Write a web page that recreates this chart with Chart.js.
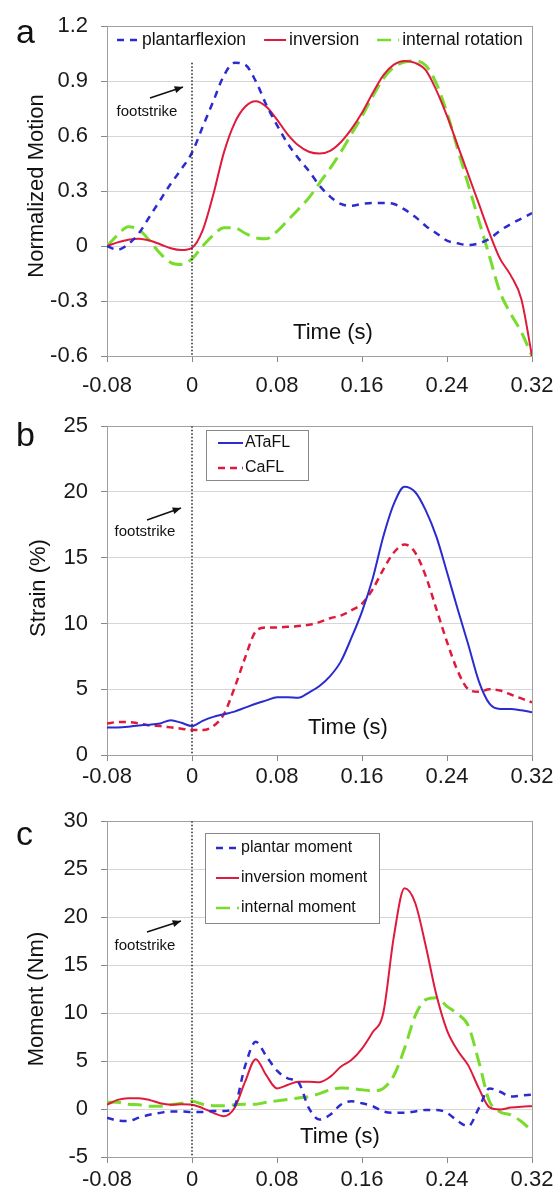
<!DOCTYPE html>
<html>
<head>
<meta charset="utf-8">
<script src="https://cdn.jsdelivr.net/npm/chart.js@4.4.0/dist/chart.umd.min.js"></script>
<style>
  html, body { margin: 0; padding: 0; background: #fff; }
  #wrap { position: relative; width: 560px; height: 1196px; }
  canvas { position: absolute; left: 0; }
</style>
</head>
<body>
<div id="wrap">
  <canvas id="chartA" width="560" height="400" style="top:0"></canvas>
  <canvas id="chartB" width="560" height="395" style="top:400px"></canvas>
  <canvas id="chartC" width="560" height="401" style="top:795px"></canvas>
</div>
<script>
/*************************************************
 * DATA
 *************************************************/
const time = [
  -0.08, -0.07, -0.06, -0.05, -0.04, -0.03, -0.02, -0.01,
  0, 0.01, 0.02, 0.03, 0.04, 0.05, 0.06, 0.07, 0.08, 0.09, 0.10,
  0.11, 0.12, 0.13, 0.14, 0.15, 0.16, 0.17, 0.18, 0.19, 0.20,
  0.21, 0.22, 0.23, 0.24, 0.25, 0.26, 0.27, 0.28, 0.29, 0.30,
  0.31, 0.32
];
const timeTicks = [-0.08, 0, 0.08, 0.16, 0.24, 0.32];
const footstrikeT = 0;

// a: normalized motion
const motionTicks = [-0.6, -0.3, 0, 0.3, 0.6, 0.9, 1.2];
const plantarflexion = [
  0.00, -0.02, 0.01, 0.07, 0.16, 0.25, 0.34, 0.42,
  0.51, 0.65, 0.79, 0.93, 1.00, 0.99, 0.90, 0.77, 0.66, 0.56, 0.48,
  0.41, 0.33, 0.27, 0.23, 0.22, 0.23, 0.235, 0.235, 0.23, 0.20,
  0.16, 0.11, 0.07, 0.03, 0.015, 0.005, 0.015, 0.04, 0.085, 0.12,
  0.15, 0.18
];
const inversion = [
  0.00, 0.02, 0.035, 0.04, 0.03, 0.01, -0.012, -0.022,
  -0.01, 0.085, 0.28, 0.51, 0.67, 0.76, 0.79, 0.76, 0.69, 0.61, 0.55,
  0.515, 0.505, 0.52, 0.567, 0.638, 0.727, 0.834, 0.932, 0.99, 1.01,
  1.0, 0.96, 0.85, 0.71, 0.55, 0.39, 0.23, 0.07, -0.07, -0.16,
  -0.29, -0.6
];
const internalRotation = [
  0.00, 0.06, 0.105, 0.09, 0.03, -0.04, -0.09, -0.10,
  -0.07, 0.0, 0.06, 0.10, 0.10, 0.07, 0.045, 0.04, 0.08, 0.14, 0.20,
  0.263, 0.344, 0.424, 0.513, 0.611, 0.709, 0.816, 0.914, 0.976, 1.005,
  1.01, 0.985, 0.887, 0.727, 0.531, 0.335, 0.139, -0.057, -0.253, -0.37,
  -0.47, -0.6
];
const footstrikeA = [1.0, -0.6];

// b: strain
const strainTicks = [0, 5, 10, 15, 20, 25];
const ataflStrain = [
  2.1, 2.1, 2.15, 2.25, 2.3, 2.4, 2.65, 2.45,
  2.2, 2.6, 2.9, 3.1, 3.3, 3.6, 3.9, 4.15, 4.4, 4.4, 4.35,
  4.75, 5.25, 6.0, 7.1, 8.9, 10.9, 13.4, 16.6, 19.1, 20.4,
  20.0, 18.6, 16.6, 13.9, 11.1, 8.4, 5.6, 3.9, 3.5, 3.5,
  3.4, 3.25
];
const cafllStrain = [
  2.4, 2.5, 2.5, 2.4, 2.25, 2.2, 2.1, 2.0,
  1.9, 1.9, 2.2, 3.1, 5.1, 7.4, 9.4, 9.7, 9.7, 9.75, 9.8,
  9.9, 10.1, 10.4, 10.6, 11.0, 11.5, 12.6, 14.1, 15.4, 16.0,
  15.4, 13.6, 11.1, 8.6, 6.4, 5.0, 4.8, 5.0, 4.9, 4.6,
  4.3, 4.0
];
const footstrikeB = [25, 0];

// c: moment
const momentTicks = [-5, 0, 5, 10, 15, 20, 25, 30];
const plantarMoment = [
  -0.9, -1.2, -1.25, -0.9, -0.6, -0.4, -0.25, -0.25,
  -0.3, -0.3, -0.2, -0.2, 0.3, 4.5, 7.0, 5.5, 4.0, 3.2, 2.8,
  0.1, -1.1, -0.6, 0.45, 0.8, 0.6, 0.3, -0.25, -0.4, -0.4,
  -0.25, -0.1, -0.1, -0.4, -1.25, -1.8, 0.1, 2.15, 1.8, 1.3,
  1.4, 1.5
];
const inversionMoment = [
  0.45, 0.95, 1.13, 1.13, 0.95, 0.6, 0.45, 0.5,
  0.45, 0.1, -0.4, -0.75, 0.1, 2.85, 5.2, 3.5, 2.15, 2.5, 2.85,
  2.85, 2.8, 3.35, 4.4, 5.1, 6.3, 8.0, 10.0, 18.0, 23.0,
  21.5, 17.0, 11.9, 8.2, 6.1, 4.55, 2.15, 0.17, -0.05, 0.15,
  0.25, 0.3
];
const internalMoment = [
  0.7, 0.7, 0.5, 0.45, 0.3, 0.3, 0.45, 0.6,
  0.8, 0.5, 0.35, 0.35, 0.45, 0.5, 0.5, 0.7, 0.85, 1.0, 1.15,
  1.3, 1.6, 2.0, 2.2, 2.15, 2.0, 1.9, 2.15, 3.5, 6.3,
  9.7, 11.4, 11.6, 10.7, 9.9, 8.7, 4.9, 0.8, -0.3, -0.6,
  -1.3, -2.3
];
const footstrikeC = [30, -5];

/*************************************************
 * STYLE
 *************************************************/
const FONT = "'Liberation Sans', Arial, sans-serif";
const BLUE = "#2b2bd0";
const RED = "#e01a3c";
const GREEN = "#78dc2c";

/*************************************************
 * HELPERS
 *************************************************/
function xy(ys) {
  return time.map((t, i) => ({ x: t, y: ys[i] }));
}

function series(label, ys, color, dash, width) {
  return {
    label,
    data: xy(ys),
    borderColor: color,
    backgroundColor: color,
    borderDash: dash,
    borderWidth: width,
    pointRadius: 0,
    cubicInterpolationMode: "monotone",
    fill: false
  };
}

function footLine(range) {
  return {
    label: "",
    data: range.map(y => ({ x: footstrikeT, y })),
    borderColor: "#222",
    borderDash: [1.5, 2],
    borderWidth: 1.5,
    pointRadius: 0,
    noLegend: true
  };
}

function fmt(v) {
  return String(+Number(v).toFixed(2));
}

/*************************************************
 * DECORATION PLUGIN (frame, titles, legend, footstrike)
 *************************************************/
const decor = {
  id: "decor",
  beforeDatasetsDraw(chart) {
    const a = chart.chartArea, ctx = chart.ctx;
    ctx.save();
    ctx.strokeStyle = "#a0a0a0";
    ctx.lineWidth = 1;
    ctx.strokeRect(Math.round(a.left) + 0.5, Math.round(a.top) + 0.5,
      Math.round(a.right - a.left), Math.round(a.bottom - a.top));
    ctx.restore();
  },
  afterDraw(chart, args, o) {
    const ctx = chart.ctx;
    ctx.save();
    ctx.fillStyle = "#111";

    // panel letter
    ctx.font = `34px ${FONT}`;
    ctx.textAlign = "left";
    ctx.textBaseline = "alphabetic";
    ctx.fillText(o.letter, 16, o.letterY);

    // y title
    ctx.save();
    ctx.translate(o.yTitle.x, o.yTitle.y);
    ctx.rotate(-Math.PI / 2);
    ctx.font = `22px ${FONT}`;
    ctx.textAlign = "center";
    ctx.textBaseline = "middle";
    ctx.fillText(o.yTitle.text, 0, 0);
    ctx.restore();

    // x title inside plot
    ctx.font = `22px ${FONT}`;
    ctx.textAlign = "center";
    ctx.textBaseline = "middle";
    ctx.fillText("Time (s)", o.xTitle.x, o.xTitle.y);

    // footstrike note + arrow
    const f = o.foot;
    ctx.font = `15px ${FONT}`;
    ctx.fillText("footstrike", f.tx, f.ty);
    ctx.strokeStyle = "#111";
    ctx.lineWidth = 1.5;
    ctx.beginPath();
    ctx.moveTo(f.x0, f.y0);
    ctx.lineTo(f.x1, f.y1);
    ctx.stroke();
    const ang = Math.atan2(f.y1 - f.y0, f.x1 - f.x0);
    ctx.beginPath();
    ctx.moveTo(f.x1, f.y1);
    ctx.lineTo(f.x1 - 9 * Math.cos(ang - 0.4), f.y1 - 9 * Math.sin(ang - 0.4));
    ctx.lineTo(f.x1 - 9 * Math.cos(ang + 0.4), f.y1 - 9 * Math.sin(ang + 0.4));
    ctx.closePath();
    ctx.fill();

    // legend
    const L = o.legend;
    const items = chart.data.datasets.filter(d => !d.noLegend);
    if (L.box) {
      ctx.fillStyle = "#fff";
      ctx.fillRect(L.box.x, L.box.y, L.box.w, L.box.h);
      ctx.strokeStyle = "#888";
      ctx.lineWidth = 1;
      ctx.strokeRect(L.box.x + 0.5, L.box.y + 0.5, L.box.w, L.box.h);
    }
    ctx.font = `${L.size}px ${FONT}`;
    ctx.textAlign = "left";
    ctx.textBaseline = "middle";
    let x = L.x, y = L.y;
    items.forEach(d => {
      ctx.save();
      ctx.strokeStyle = d.borderColor;
      ctx.lineWidth = Math.min(d.borderWidth, 2.5);
      ctx.setLineDash(d.borderDash || []);
      ctx.beginPath();
      ctx.moveTo(x, y);
      ctx.lineTo(x + L.sample, y);
      ctx.stroke();
      ctx.restore();
      ctx.fillStyle = "#111";
      ctx.fillText(d.label, x + L.sample + L.gap, y);
      if (L.horizontal) {
        x += L.sample + L.gap + ctx.measureText(d.label).width + L.itemGap;
      } else {
        y += L.row;
      }
    });
    ctx.restore();
  }
};

/*************************************************
 * CHART FACTORY
 *************************************************/
function makeChart(id, cfg) {
  const el = document.getElementById(id);
  if (!el) return;

  new Chart(el, {
    type: "line",
    data: { datasets: cfg.datasets },
    options: {
      responsive: false,
      animation: false,
      devicePixelRatio: 1,
      layout: { padding: { top: cfg.padTop, right: 28, left: 0, bottom: 0 } },
      plugins: {
        legend: { display: false },
        tooltip: { enabled: false },
        decor: cfg.deco
      },
      scales: {
        x: {
          type: "linear",
          min: -0.08,
          max: 0.32,
          afterBuildTicks: s => { s.ticks = timeTicks.map(v => ({ value: v })); },
          afterFit: s => {
            s.height = cfg.xAxisH;
            s.paddingLeft = 0;
            s.paddingRight = 0;
          },
          ticks: {
            font: { family: FONT, size: 22 },
            color: "#1a1a1a",
            padding: cfg.xPad,
            maxRotation: 0,
            autoSkip: false,
            callback: v => fmt(v)
          },
          grid: { drawOnChartArea: false, tickLength: 6, tickColor: "#888" },
          border: { color: "#999" }
        },
        y: {
          type: "linear",
          min: cfg.yTicks[0],
          max: cfg.yTicks[cfg.yTicks.length - 1],
          afterBuildTicks: s => { s.ticks = cfg.yTicks.map(v => ({ value: v })); },
          afterFit: s => { s.width = 107; },
          ticks: {
            font: { family: FONT, size: 22 },
            color: "#1a1a1a",
            padding: 13,
            callback: v => fmt(v)
          },
          grid: { color: "#d6d6d6", tickLength: 6, tickColor: "#888" },
          border: { color: "#999" }
        }
      }
    },
    plugins: [decor]
  });
}

/*************************************************
 * PANELS
 *************************************************/
makeChart("chartA", {
  padTop: 19, xAxisH: 44, xPad: 11, yTicks: motionTicks,
  datasets: [
    footLine(footstrikeA),
    series("plantarflexion", plantarflexion, BLUE, [7, 6], 2.5),
    series("inversion", inversion, RED, [], 2),
    series("internal rotation", internalRotation, GREEN, [14, 7], 3)
  ],
  deco: {
    letter: "a", letterY: 43,
    yTitle: { text: "Normalized Motion", x: 37, y: 186 },
    xTitle: { x: 333, y: 333 },
    foot: { tx: 147, ty: 112, x0: 150, y0: 98, x1: 183, y1: 87 },
    legend: { horizontal: true, x: 117, y: 40, size: 17.5, sample: 22, gap: 3, itemGap: 18 }
  }
});

makeChart("chartB", {
  padTop: 22, xAxisH: 40, xPad: 3, yTicks: strainTicks,
  datasets: [
    footLine(footstrikeB),
    series("ATaFL", ataflStrain, BLUE, [], 2),
    series("CaFL", cafllStrain, RED, [7, 5], 2.5)
  ],
  deco: {
    letter: "b", letterY: 46,
    yTitle: { text: "Strain (%)", x: 39, y: 188 },
    xTitle: { x: 348, y: 328 },
    foot: { tx: 145, ty: 132, x0: 147, y0: 120, x1: 181, y1: 108 },
    legend: { box: { x: 206, y: 30, w: 102, h: 50 }, x: 218, y: 43, row: 25, size: 16, sample: 25, gap: 2 }
  }
});

makeChart("chartC", {
  padTop: 21, xAxisH: 39, xPad: 4, yTicks: momentTicks,
  datasets: [
    footLine(footstrikeC),
    series("plantar moment", plantarMoment, BLUE, [7, 6], 2.5),
    series("inversion moment", inversionMoment, RED, [], 2),
    series("internal moment", internalMoment, GREEN, [14, 7], 3)
  ],
  deco: {
    letter: "c", letterY: 50,
    yTitle: { text: "Moment (Nm)", x: 37, y: 204 },
    xTitle: { x: 340, y: 342 },
    foot: { tx: 145, ty: 151, x0: 147, y0: 137, x1: 181, y1: 126 },
    legend: { box: { x: 205, y: 38, w: 174, h: 90 }, x: 216, y: 53, row: 30, size: 16, sample: 23, gap: 2 }
  }
});
</script>
</body>
</html>
